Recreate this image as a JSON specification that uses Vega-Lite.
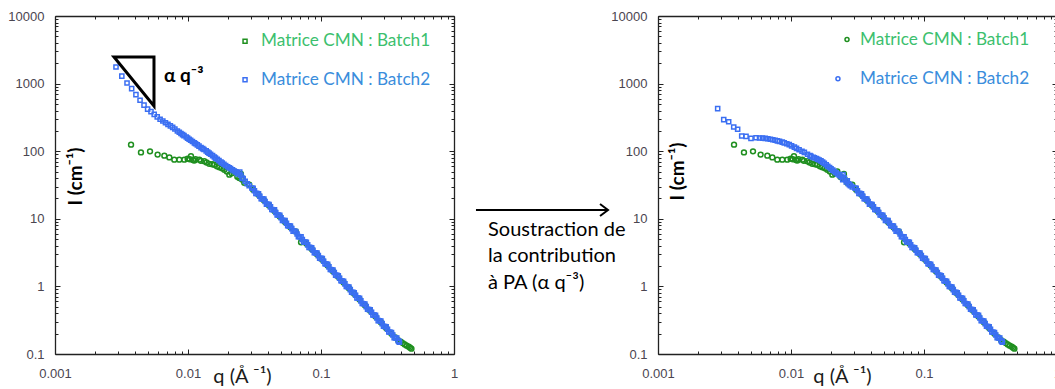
{
"$schema":"https://vega.github.io/schema/vega-lite/v6.json",
"background":"white",
"padding":{"left":7,"top":10,"right":0,"bottom":0},
"bounds":"flush",
"spacing":204,
"resolve":{"scale":{"shape":"independent"}},
"config":{"view":{"stroke":null},"axis":{"grid":false,"domainColor":"#222","domainWidth":1.3,"tickColor":"#222","tickWidth":1,"labelFont":"Liberation Sans","labelFontSize":13,"labelColor":"#4a4550","labelFlush":false,"labelOverlap":false,"titleFont":"Lato","titleColor":"#1a1a1a"}},
"datasets":{
"b1":[{"q":0.00373,"I":125},{"q":0.00443,"I":96},{"q":0.00518,"I":99.5},{"q":0.00591,"I":89},{"q":0.00664,"I":86},{"q":0.00724,"I":81},{"q":0.00789,"I":75},{"q":0.0086,"I":75},{"q":0.00938,"I":75},{"q":0.00994,"I":77.6},{"q":0.0103,"I":76},{"q":0.01053,"I":84},{"q":0.0109,"I":74},{"q":0.01116,"I":73},{"q":0.0114,"I":76},{"q":0.01217,"I":75},{"q":0.0125,"I":72},{"q":0.01327,"I":71},{"q":0.0138,"I":68},{"q":0.01446,"I":65},{"q":0.0152,"I":64},{"q":0.01578,"I":63},{"q":0.0165,"I":60},{"q":0.0172,"I":58},{"q":0.018,"I":56},{"q":0.01876,"I":53},{"q":0.0196,"I":50},{"q":0.02046,"I":45},{"q":0.0213,"I":47},{"q":0.0223,"I":50},{"q":0.0235,"I":42},{"q":0.0243,"I":40},{"q":0.025,"I":46},{"q":0.0255,"I":38},{"q":0.0265,"I":34},{"q":0.0289,"I":32},{"q":0.0309,"I":27},{"q":0.0339,"I":22.6},{"q":0.0372,"I":18.8},{"q":0.0407,"I":15.7},{"q":0.0447,"I":13.0},{"q":0.049,"I":10.8},{"q":0.0537,"I":9.0},{"q":0.0589,"I":7.5},{"q":0.0646,"I":6.5},{"q":0.0708,"I":4.5},{"q":0.0776,"I":4.3},{"q":0.0851,"I":3.59},{"q":0.0933,"I":2.99},{"q":0.1023,"I":2.48},{"q":0.1122,"I":2.04},{"q":0.123,"I":1.68},{"q":0.1349,"I":1.39},{"q":0.1479,"I":1.14},{"q":0.1622,"I":0.94},{"q":0.1778,"I":0.776},{"q":0.195,"I":0.64},{"q":0.2138,"I":0.527},{"q":0.2344,"I":0.435},{"q":0.257,"I":0.358},{"q":0.2818,"I":0.295},{"q":0.309,"I":0.243},{"q":0.3388,"I":0.2},{"q":0.3631,"I":0.175},{"q":0.3802,"I":0.16},{"q":0.3981,"I":0.152},{"q":0.4121,"I":0.145},{"q":0.4266,"I":0.138},{"q":0.4416,"I":0.133},{"q":0.4571,"I":0.128},{"q":0.4677,"I":0.124},{"q":0.4786,"I":0.12}],
"b2a":[{"q":0.002875,"I":1760},{"q":0.00318,"I":1290},{"q":0.00348,"I":1020},{"q":0.00377,"I":841},{"q":0.00406,"I":688},{"q":0.00436,"I":568},{"q":0.00467,"I":480},{"q":0.00497,"I":420},{"q":0.00527,"I":385},{"q":0.00557,"I":350},{"q":0.00587,"I":322},{"q":0.00617,"I":297},{"q":0.00647,"I":280},{"q":0.00677,"I":264},{"q":0.00707,"I":249},{"q":0.00737,"I":237},{"q":0.00767,"I":225},{"q":0.00797,"I":213},{"q":0.008318,"I":199},{"q":0.0086,"I":191},{"q":0.008851,"I":183},{"q":0.0091,"I":176},{"q":0.009333,"I":170},{"q":0.0097,"I":162},{"q":0.009931,"I":156},{"q":0.0102,"I":150},{"q":0.010471,"I":145},{"q":0.0108,"I":139},{"q":0.011169,"I":133},{"q":0.0114,"I":129},{"q":0.011749,"I":124},{"q":0.0121,"I":119},{"q":0.012531,"I":113},{"q":0.0129,"I":109},{"q":0.013183,"I":106},{"q":0.0137,"I":101},{"q":0.01406,"I":97},{"q":0.0144,"I":93.5},{"q":0.014791,"I":90},{"q":0.0153,"I":86},{"q":0.015776,"I":82},{"q":0.0161,"I":79},{"q":0.016596,"I":76},{"q":0.0171,"I":72.5},{"q":0.017701,"I":69},{"q":0.0181,"I":66.5},{"q":0.018621,"I":64},{"q":0.0192,"I":61.5},{"q":0.019861,"I":59},{"q":0.0204,"I":57},{"q":0.020893,"I":55.5},{"q":0.0216,"I":53},{"q":0.022284,"I":51},{"q":0.0229,"I":49.5},{"q":0.023442,"I":48},{"q":0.0238,"I":46},{"q":0.0245,"I":49},{"q":0.025003,"I":44},{"q":0.0255,"I":40},{"q":0.026002,"I":39.5},{"q":0.026915,"I":36},{"q":0.027861,"I":33},{"q":0.02884,"I":31}],
"b2b":[{"q":0.00281,"I":426},{"q":0.00312,"I":293},{"q":0.0034,"I":273},{"q":0.00371,"I":228},{"q":0.00397,"I":211},{"q":0.00426,"I":168},{"q":0.00459,"I":166},{"q":0.005,"I":155},{"q":0.00546,"I":158},{"q":0.0058,"I":157},{"q":0.0061,"I":156},{"q":0.0064,"I":155},{"q":0.0067,"I":153},{"q":0.007,"I":150},{"q":0.0073,"I":148},{"q":0.0076,"I":145},{"q":0.0079,"I":142},{"q":0.0082,"I":140},{"q":0.0086,"I":136},{"q":0.0089,"I":133},{"q":0.0093,"I":129},{"q":0.0097,"I":125},{"q":0.0101,"I":120},{"q":0.0106,"I":115},{"q":0.011,"I":110},{"q":0.0115,"I":105},{"q":0.0121,"I":100},{"q":0.0126,"I":96},{"q":0.0133,"I":90},{"q":0.0139,"I":86},{"q":0.01414,"I":84},{"q":0.0147,"I":81},{"q":0.015,"I":80},{"q":0.0155,"I":78},{"q":0.01587,"I":76},{"q":0.0163,"I":74},{"q":0.0168,"I":72},{"q":0.0173,"I":69},{"q":0.0178,"I":66},{"q":0.0184,"I":63},{"q":0.0189,"I":60},{"q":0.0195,"I":57.5},{"q":0.02,"I":55},{"q":0.0206,"I":52.5},{"q":0.0212,"I":50},{"q":0.0218,"I":48},{"q":0.02244,"I":46},{"q":0.0231,"I":44},{"q":0.0238,"I":42},{"q":0.0245,"I":38},{"q":0.0246,"I":45},{"q":0.0252,"I":40},{"q":0.026,"I":35},{"q":0.0265,"I":36.5},{"q":0.027,"I":33},{"q":0.0275,"I":32},{"q":0.028,"I":31},{"q":0.0289,"I":29.5}],
"b2hi":[{"q":0.0302,"I":28.5},{"q":0.0309,"I":28.3},{"q":0.0316,"I":26.0},{"q":0.0324,"I":23.8},{"q":0.0331,"I":23.7},{"q":0.0339,"I":23.5},{"q":0.0347,"I":21.6},{"q":0.0355,"I":19.8},{"q":0.0363,"I":19.7},{"q":0.0372,"I":19.6},{"q":0.038,"I":18.0},{"q":0.0389,"I":16.5},{"q":0.0398,"I":16.4},{"q":0.0407,"I":16.3},{"q":0.0417,"I":15.0},{"q":0.0427,"I":13.7},{"q":0.0437,"I":13.6},{"q":0.0447,"I":13.6},{"q":0.0457,"I":12.4},{"q":0.0468,"I":11.4},{"q":0.0479,"I":11.35},{"q":0.049,"I":11.3},{"q":0.0501,"I":10.35},{"q":0.0513,"I":9.49},{"q":0.0525,"I":9.44},{"q":0.0537,"I":9.38},{"q":0.055,"I":8.61},{"q":0.0562,"I":7.89},{"q":0.0575,"I":7.85},{"q":0.0589,"I":7.8},{"q":0.0603,"I":7.16},{"q":0.0617,"I":6.57},{"q":0.0631,"I":6.53},{"q":0.0646,"I":6.49},{"q":0.0661,"I":5.96},{"q":0.0676,"I":5.46},{"q":0.0692,"I":5.43},{"q":0.0708,"I":5.4},{"q":0.0724,"I":4.95},{"q":0.0741,"I":4.54},{"q":0.0759,"I":4.52},{"q":0.0776,"I":4.49},{"q":0.0794,"I":4.12},{"q":0.0813,"I":3.78},{"q":0.0832,"I":3.76},{"q":0.0851,"I":3.73},{"q":0.0871,"I":3.43},{"q":0.0891,"I":3.14},{"q":0.0912,"I":3.13},{"q":0.0933,"I":3.11},{"q":0.0955,"I":2.85},{"q":0.0977,"I":2.61},{"q":0.1,"I":2.6},{"q":0.1023,"I":2.58},{"q":0.1047,"I":2.36},{"q":0.1072,"I":2.16},{"q":0.1096,"I":2.14},{"q":0.1122,"I":2.12},{"q":0.1148,"I":1.945},{"q":0.1175,"I":1.78},{"q":0.1202,"I":1.766},{"q":0.123,"I":1.75},{"q":0.1259,"I":1.603},{"q":0.1288,"I":1.47},{"q":0.1318,"I":1.455},{"q":0.1349,"I":1.44},{"q":0.138,"I":1.321},{"q":0.1413,"I":1.21},{"q":0.1445,"I":1.199},{"q":0.1479,"I":1.19},{"q":0.1514,"I":1.089},{"q":0.1549,"I":0.996},{"q":0.1585,"I":0.989},{"q":0.1622,"I":0.98},{"q":0.166,"I":0.897},{"q":0.1698,"I":0.821},{"q":0.1738,"I":0.815},{"q":0.1778,"I":0.807},{"q":0.182,"I":0.74},{"q":0.1862,"I":0.677},{"q":0.1905,"I":0.671},{"q":0.195,"I":0.666},{"q":0.1995,"I":0.61},{"q":0.2042,"I":0.558},{"q":0.2089,"I":0.553},{"q":0.2138,"I":0.548},{"q":0.2188,"I":0.502},{"q":0.2239,"I":0.46},{"q":0.2291,"I":0.456},{"q":0.2344,"I":0.452},{"q":0.2399,"I":0.414},{"q":0.2455,"I":0.379},{"q":0.2512,"I":0.376},{"q":0.257,"I":0.372},{"q":0.263,"I":0.341},{"q":0.2692,"I":0.312},{"q":0.2754,"I":0.31},{"q":0.2818,"I":0.307},{"q":0.2884,"I":0.281},{"q":0.2951,"I":0.257},{"q":0.302,"I":0.255},{"q":0.309,"I":0.253},{"q":0.3162,"I":0.232},{"q":0.3236,"I":0.212},{"q":0.3311,"I":0.21},{"q":0.3388,"I":0.208},{"q":0.3467,"I":0.191},{"q":0.3548,"I":0.175},{"q":0.3631,"I":0.173},{"q":0.3715,"I":0.172},{"q":0.3802,"I":0.157},{"q":0.3846,"I":0.1537},{"q":0.389,"I":0.15}],
"tri":[{"o":1,"q":0.002777,"I":2473},{"o":2,"q":0.00555,"I":2473},{"o":3,"q":0.00555,"I":467},{"o":4,"q":0.002777,"I":2473},{"o":5,"q":0.0035,"I":2473}],
"arrow":[{"seg":"a","o":1,"q":1.463,"I":13.49},{"seg":"a","o":2,"q":14.2,"I":13.49},{"seg":"h","o":1,"q":12.53,"I":16.56},{"seg":"h","o":2,"q":14.39,"I":13.49},{"seg":"h","o":3,"q":12.53,"I":10.99}],
"mid":[{"q":1.803,"I":6.82,"t":"Soustraction de"},{"q":1.803,"I":2.82,"t":"la contribution"},{"q":1.803,"I":1.122,"t":"à PA (α q⁻³)"}],
"alpha":[{"q":0.0066,"I":1294,"t":"α q⁻³"}],
"legL":[{"s":"Batch1","mq":0.02685,"tq":0.0354,"I":4227,"t":"Matrice CMN : Batch1"},{"s":"Batch2","mq":0.02685,"tq":0.0354,"I":1143,"t":"Matrice CMN : Batch2"}],
"legR":[{"s":"Batch1","mq":0.02637,"tq":0.03304,"I":4487,"t":"Matrice CMN : Batch1"},{"s":"Batch2","mq":0.02254,"tq":0.03304,"I":1178,"t":"Matrice CMN : Batch2"}]
},
"hconcat":[
{"width":399,"height":338,
"resolve":{"axis":{"x":"independent","y":"independent"}},
"layer":[
{"data":{"name":"b1"},"mark":{"type":"point","shape":"circle","filled":false,"stroke":"#1f8f1f","strokeWidth":1.5,"size":24,"opacity":1},
"encoding":{
"x":{"field":"q","type":"quantitative","scale":{"type":"log","domain":[0.001,1]},"axis":{"orient":"bottom","values":[0.001,0.002,0.003,0.004,0.005,0.006,0.007,0.008,0.009,0.01,0.02,0.03,0.04,0.05,0.06,0.07,0.08,0.09,0.1,0.2,0.3,0.4,0.5,0.6,0.7,0.8,0.9,1],"labelExpr":"abs(log(datum.value)/LN10 - round(log(datum.value)/LN10)) < 0.01 ? format(datum.value, '~g') : ''","tickSize":{"condition":{"test":"abs(log(datum.value)/LN10 - round(log(datum.value)/LN10)) < 0.01","value":-5},"value":-3},"labelPadding":18,"title":"q (Å ⁻¹)","titleFontSize":20,"titleFontWeight":"normal","titleX":187,"titleY":28,"titleAlign":"center","titleBaseline":"alphabetic"}},
"y":{"field":"I","type":"quantitative","scale":{"type":"log","domain":[0.1,10000]},"axis":{"orient":"left","values":[0.1,0.2,0.3,0.4,0.5,0.6,0.7,0.8,0.9,1,2,3,4,5,6,7,8,9,10,20,30,40,50,60,70,80,90,100,200,300,400,500,600,700,800,900,1000,2000,3000,4000,5000,6000,7000,8000,9000,10000],"labelExpr":"abs(log(datum.value)/LN10 - round(log(datum.value)/LN10)) < 0.01 ? format(datum.value, '~g') : ''","tickSize":{"condition":{"test":"abs(log(datum.value)/LN10 - round(log(datum.value)/LN10)) < 0.01","value":-5},"value":-3},"labelPadding":16,"title":"I (cm⁻¹)","titleFontSize":19,"titleFontWeight":"bold","titleColor":"black","titleX":26,"titleY":160,"titleAngle":-90,"titleAlign":"center","titleBaseline":"alphabetic"}}}},
{"data":{"name":"b2a"},"mark":{"type":"point","shape":"square","filled":false,"stroke":"#3b6ff2","strokeWidth":1.5,"size":17,"opacity":1},
"encoding":{"x":{"field":"q","type":"quantitative","scale":{"type":"log","domain":[0.001,1]},"axis":null},"y":{"field":"I","type":"quantitative","scale":{"type":"log","domain":[0.1,10000]},"axis":null}}},
{"data":{"name":"b2hi"},"mark":{"type":"point","shape":"square","filled":false,"stroke":"#3b6ff2","strokeWidth":1.5,"size":17,"opacity":1},
"encoding":{"x":{"field":"q","type":"quantitative","scale":{"type":"log","domain":[0.001,1]},"axis":null},"y":{"field":"I","type":"quantitative","scale":{"type":"log","domain":[0.1,10000]},"axis":null}}},
{"data":{"name":"tri"},"mark":{"type":"line","stroke":"black","strokeWidth":3,"strokeJoin":"miter"},
"encoding":{"x":{"field":"q","type":"quantitative","scale":{"type":"log","domain":[0.001,1]},"axis":null},"y":{"field":"I","type":"quantitative","scale":{"type":"log","domain":[0.1,10000]},"axis":null},"order":{"field":"o","type":"quantitative"}}},
{"data":{"name":"arrow"},"mark":{"type":"line","stroke":"black","strokeWidth":2,"strokeJoin":"miter"},
"encoding":{"x":{"field":"q","type":"quantitative","scale":{"type":"log","domain":[0.001,1]},"axis":null},"y":{"field":"I","type":"quantitative","scale":{"type":"log","domain":[0.1,10000]},"axis":null},"detail":{"field":"seg","type":"nominal"},"order":{"field":"o","type":"quantitative"}}},
{"data":{"name":"alpha"},"mark":{"type":"text","font":"Lato","fontWeight":"bold","fontSize":19,"align":"left","baseline":"middle","color":"black"},
"encoding":{"x":{"field":"q","type":"quantitative","scale":{"type":"log","domain":[0.001,1]},"axis":null},"y":{"field":"I","type":"quantitative","scale":{"type":"log","domain":[0.1,10000]},"axis":null},"text":{"field":"t"}}},
{"data":{"name":"mid"},"mark":{"type":"text","font":"Lato","fontSize":20,"align":"left","baseline":"middle","color":"black"},
"encoding":{"x":{"field":"q","type":"quantitative","scale":{"type":"log","domain":[0.001,1]},"axis":null},"y":{"field":"I","type":"quantitative","scale":{"type":"log","domain":[0.1,10000]},"axis":null},"text":{"field":"t"}}},
{"data":{"name":"legL"},"mark":{"type":"point","filled":false,"strokeWidth":1.5,"size":16,"opacity":1},
"encoding":{"x":{"field":"mq","type":"quantitative","scale":{"type":"log","domain":[0.001,1]},"axis":null},"y":{"field":"I","type":"quantitative","scale":{"type":"log","domain":[0.1,10000]},"axis":null},"stroke":{"field":"s","type":"nominal","scale":{"domain":["Batch1","Batch2"],"range":["#1f8f1f","#3b6ff2"]},"legend":null},"shape":{"field":"s","type":"nominal","scale":{"domain":["Batch1","Batch2"],"range":["square","square"]},"legend":null}}},
{"data":{"name":"legL"},"mark":{"type":"text","font":"Lato","fontSize":17.2,"align":"left","baseline":"middle"},
"encoding":{"x":{"field":"tq","type":"quantitative","scale":{"type":"log","domain":[0.001,1]},"axis":null},"y":{"field":"I","type":"quantitative","scale":{"type":"log","domain":[0.1,10000]},"axis":null},"text":{"field":"t"},"fill":{"field":"s","type":"nominal","scale":{"domain":["Batch1","Batch2"],"range":["#3cbf6e","#3a8ddc"]},"legend":null}}},
{"data":{"name":"legL"},"mark":{"type":"point","opacity":0},
"encoding":{"x":{"field":"mq","type":"quantitative","scale":{"type":"log","domain":[0.001,1]},"axis":{"orient":"top","values":[0.001,0.002,0.003,0.004,0.005,0.006,0.007,0.008,0.009,0.01,0.02,0.03,0.04,0.05,0.06,0.07,0.08,0.09,0.1,0.2,0.3,0.4,0.5,0.6,0.7,0.8,0.9,1],"labels":false,"title":null,"tickSize":{"condition":{"test":"abs(log(datum.value)/LN10 - round(log(datum.value)/LN10)) < 0.01","value":-5},"value":-3}}},"y":{"field":"I","type":"quantitative","scale":{"type":"log","domain":[0.1,10000]},"axis":{"orient":"right","values":[0.1,0.2,0.3,0.4,0.5,0.6,0.7,0.8,0.9,1,2,3,4,5,6,7,8,9,10,20,30,40,50,60,70,80,90,100,200,300,400,500,600,700,800,900,1000,2000,3000,4000,5000,6000,7000,8000,9000,10000],"labels":false,"title":null,"tickSize":{"condition":{"test":"abs(log(datum.value)/LN10 - round(log(datum.value)/LN10)) < 0.01","value":-5},"value":-3}}}}}
]},
{"width":399,"height":338,
"resolve":{"axis":{"x":"independent","y":"independent"}},
"layer":[
{"data":{"name":"b1"},"mark":{"type":"point","shape":"circle","filled":false,"stroke":"#1f8f1f","strokeWidth":1.5,"size":24,"opacity":1},
"encoding":{
"x":{"field":"q","type":"quantitative","scale":{"type":"log","domain":[0.001,1]},"axis":{"orient":"bottom","values":[0.001,0.002,0.003,0.004,0.005,0.006,0.007,0.008,0.009,0.01,0.02,0.03,0.04,0.05,0.06,0.07,0.08,0.09,0.1,0.2,0.3,0.4,0.5,0.6,0.7,0.8,0.9,1],"labelExpr":"abs(log(datum.value)/LN10 - round(log(datum.value)/LN10)) < 0.01 ? format(datum.value, '~g') : ''","tickSize":{"condition":{"test":"abs(log(datum.value)/LN10 - round(log(datum.value)/LN10)) < 0.01","value":-5},"value":-3},"labelPadding":18,"title":"q (Å ⁻¹)","titleFontSize":20,"titleFontWeight":"normal","titleX":184,"titleY":28,"titleAlign":"center","titleBaseline":"alphabetic"}},
"y":{"field":"I","type":"quantitative","scale":{"type":"log","domain":[0.1,10000]},"axis":{"orient":"left","values":[0.1,0.2,0.3,0.4,0.5,0.6,0.7,0.8,0.9,1,2,3,4,5,6,7,8,9,10,20,30,40,50,60,70,80,90,100,200,300,400,500,600,700,800,900,1000,2000,3000,4000,5000,6000,7000,8000,9000,10000],"labelExpr":"abs(log(datum.value)/LN10 - round(log(datum.value)/LN10)) < 0.01 ? format(datum.value, '~g') : ''","tickSize":{"condition":{"test":"abs(log(datum.value)/LN10 - round(log(datum.value)/LN10)) < 0.01","value":-5},"value":-3},"labelPadding":16,"title":"I (cm⁻¹)","titleFontSize":19,"titleFontWeight":"bold","titleColor":"black","titleX":25,"titleY":155,"titleAngle":-90,"titleAlign":"center","titleBaseline":"alphabetic"}}}},
{"data":{"name":"b2b"},"mark":{"type":"point","shape":"square","filled":false,"stroke":"#3b6ff2","strokeWidth":1.5,"size":17,"opacity":1},
"encoding":{"x":{"field":"q","type":"quantitative","scale":{"type":"log","domain":[0.001,1]},"axis":null},"y":{"field":"I","type":"quantitative","scale":{"type":"log","domain":[0.1,10000]},"axis":null}}},
{"data":{"name":"b2hi"},"mark":{"type":"point","shape":"square","filled":false,"stroke":"#3b6ff2","strokeWidth":1.5,"size":17,"opacity":1},
"encoding":{"x":{"field":"q","type":"quantitative","scale":{"type":"log","domain":[0.001,1]},"axis":null},"y":{"field":"I","type":"quantitative","scale":{"type":"log","domain":[0.1,10000]},"axis":null}}},
{"data":{"name":"legR"},"mark":{"type":"point","filled":false,"strokeWidth":1.5,"size":16,"opacity":1},
"encoding":{"x":{"field":"mq","type":"quantitative","scale":{"type":"log","domain":[0.001,1]},"axis":null},"y":{"field":"I","type":"quantitative","scale":{"type":"log","domain":[0.1,10000]},"axis":null},"stroke":{"field":"s","type":"nominal","scale":{"domain":["Batch1","Batch2"],"range":["#1f8f1f","#3b6ff2"]},"legend":null},"shape":{"field":"s","type":"nominal","scale":{"domain":["Batch1","Batch2"],"range":["circle","circle"]},"legend":null}}},
{"data":{"name":"legR"},"mark":{"type":"text","font":"Lato","fontSize":17.2,"align":"left","baseline":"middle"},
"encoding":{"x":{"field":"tq","type":"quantitative","scale":{"type":"log","domain":[0.001,1]},"axis":null},"y":{"field":"I","type":"quantitative","scale":{"type":"log","domain":[0.1,10000]},"axis":null},"text":{"field":"t"},"fill":{"field":"s","type":"nominal","scale":{"domain":["Batch1","Batch2"],"range":["#3cbf6e","#3a8ddc"]},"legend":null}}},
{"data":{"name":"legR"},"mark":{"type":"point","opacity":0},
"encoding":{"x":{"field":"mq","type":"quantitative","scale":{"type":"log","domain":[0.001,1]},"axis":{"orient":"top","values":[0.001,0.002,0.003,0.004,0.005,0.006,0.007,0.008,0.009,0.01,0.02,0.03,0.04,0.05,0.06,0.07,0.08,0.09,0.1,0.2,0.3,0.4,0.5,0.6,0.7,0.8,0.9,1],"labels":false,"title":null,"tickSize":{"condition":{"test":"abs(log(datum.value)/LN10 - round(log(datum.value)/LN10)) < 0.01","value":-5},"value":-3}}},"y":{"field":"I","type":"quantitative","scale":{"type":"log","domain":[0.1,10000]},"axis":{"orient":"right","values":[0.1,0.2,0.3,0.4,0.5,0.6,0.7,0.8,0.9,1,2,3,4,5,6,7,8,9,10,20,30,40,50,60,70,80,90,100,200,300,400,500,600,700,800,900,1000,2000,3000,4000,5000,6000,7000,8000,9000,10000],"labels":false,"title":null,"tickSize":{"condition":{"test":"abs(log(datum.value)/LN10 - round(log(datum.value)/LN10)) < 0.01","value":-5},"value":-3}}}}}
]}
]
}
